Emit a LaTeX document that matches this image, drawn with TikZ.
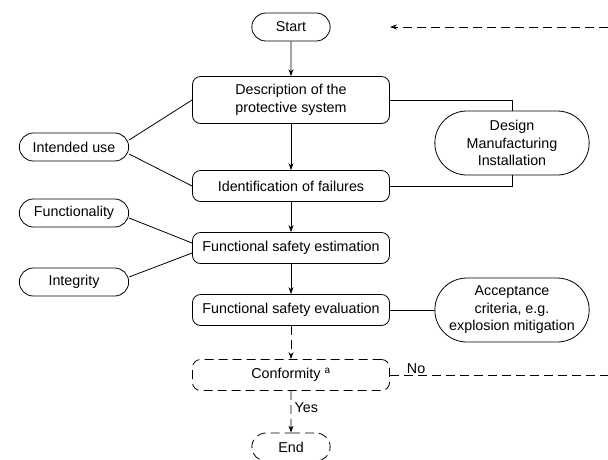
\documentclass[tikz,border=0pt]{standalone}
\usepackage{fontspec}
\setmainfont{Liberation Sans}
\usetikzlibrary{shapes.misc, arrows.meta, positioning}
\tikzstyle{arrow} = [-{Stealth[length=7pt,width=5pt]}]
\tikzstyle{dasharrow} = [-{Stealth[length=7pt,width=5pt]},dash pattern=on 9pt off 5pt]
\tikzstyle{dashline} = [dash pattern=on 9pt off 5pt]
\tikzstyle{flowbox} = [rectangle, rounded corners=8pt, minimum width=197pt, minimum height=31pt, text centered, align=center, draw=black]
\tikzstyle{termpill} = [rounded rectangle, minimum width=85pt, minimum height=28pt, text centered, draw=black]
\tikzstyle{factorpill} = [rounded rectangle, minimum width=116pt, minimum height=28pt, text centered, draw=black]
\tikzstyle{inputpill} = [rounded rectangle, minimum width=161pt, minimum height=64pt, align=center, draw=black]

\begin{document}
\begin{tikzpicture}[x=1pt, y=1pt, node distance=62pt, line width=0.8pt, font=\fontsize{14.3}{17.5}\selectfont]
\useasboundingbox (0,0) rectangle (608,-459);

% Main flow
\node (start) [termpill] at (291,-27) {Start};
\node (desc) [flowbox, below of=start, yshift=-11pt, minimum height=47pt] {Description of the\\protective system};
\node (ident) [flowbox, below of=desc, yshift=-24pt] {Identification of failures};
\node (estim) [flowbox, below of=ident] {Functional safety estimation};
\node (evalu) [flowbox, below of=estim] {Functional safety evaluation};
\node (conf) [flowbox, dashline, below of=evalu, yshift=-3pt] {Conformity \textsuperscript{a}};
\node (end) [termpill, dashline, below of=conf, yshift=-10pt] {End};

% Inputs on the left
\node (intended) [factorpill, left of=desc, xshift=-155pt, yshift=-47pt] {Intended use};
\node (functy) [factorpill, left of=estim, xshift=-155pt, yshift=35pt] {Functionality};
\node (integ) [factorpill, left of=estim, xshift=-155pt, yshift=-34pt] {Integrity};

% Inputs on the right
\node (design) [inputpill, right of=desc, xshift=159pt, yshift=-43pt] {Design\\Manufacturing\\Installation};
\node (accept) [inputpill, right of=evalu, xshift=159pt] {Acceptance\\criteria, e.g.\\explosion mitigation};

% Loop back
\coordinate (noout) at (608,-375);
\coordinate (backin) at (608,-27);
\coordinate (backend) at (390,-27);

% Arrows
\draw [arrow] (start) -- (desc);
\draw [arrow] (desc) -- (ident);
\draw [arrow] (ident) -- (estim);
\draw [arrow] (estim) -- (evalu);
\draw [dasharrow] (evalu) -- (conf);
\draw [dasharrow] (conf) -- node[right, pos=0.4] {Yes} (end);
\draw [dashline] (conf.east) -- node[above, pos=0.12, inner sep=1pt] {No} (noout);
\draw [dasharrow] (backin) -- (backend);

% Links
\draw (desc.east) -| (design.north);
\draw (design.south) |- (ident.east);
\draw (evalu.east) -- (accept.west);
\draw ([yshift=7pt]intended.east) -- (desc.west);
\draw ([yshift=-7pt]intended.east) -- (ident.west);
\draw ([yshift=-5pt]functy.east) -- ([yshift=5pt]estim.west);
\draw ([yshift=5pt]integ.east) -- ([yshift=-5pt]estim.west);

\end{tikzpicture}
\end{document}
